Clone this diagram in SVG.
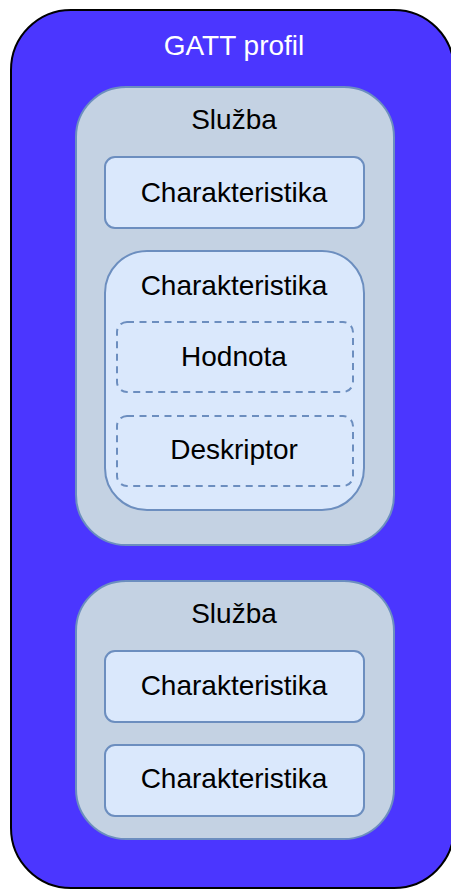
<svg xmlns="http://www.w3.org/2000/svg" width="451" height="890" viewBox="0 0 451 890">
<style>
text{font-family:"Liberation Sans",Arial,sans-serif;font-size:28px;text-anchor:middle;fill:#000}
.outer{fill:#4B36FF;stroke:#000;stroke-width:2}
.svc{fill:#C4D2E3;stroke:#6C8EBF;stroke-width:2}
.chr{fill:#DAE8FC;stroke:#6C8EBF;stroke-width:2}
.dash{fill:none;stroke:#6C8EBF;stroke-width:2;stroke-dasharray:7 5.5}
</style>
<g id="gatt-profil">
<rect class="outer" x="11" y="10" width="443" height="878" rx="60" ry="60"/>
<text x="234" y="55" style="fill:#fff">GATT profil</text>
</g>
<g id="sluzba-1">
<rect class="svc" x="76" y="87" width="318" height="458" rx="50" ry="50"/>
<text x="234" y="129">Služba</text>
</g>
<g id="charakteristika-1">
<rect class="chr" x="105" y="157" width="259" height="71" rx="10" ry="10"/>
<text x="234" y="202">Charakteristika</text>
</g>
<g id="charakteristika-2">
<rect class="chr" x="105" y="251" width="259" height="259" rx="42" ry="42"/>
<text x="234" y="295">Charakteristika</text>
</g>
<g id="hodnota">
<rect class="dash" x="117" y="322" width="236" height="70" rx="10" ry="10"/>
<text x="234" y="366">Hodnota</text>
</g>
<g id="deskriptor">
<rect class="dash" x="117" y="416" width="236" height="70" rx="10" ry="10"/>
<text x="234" y="459">Deskriptor</text>
</g>
<g id="sluzba-2">
<rect class="svc" x="76" y="581" width="318" height="258" rx="50" ry="50"/>
<text x="234" y="623">Služba</text>
</g>
<g id="charakteristika-3">
<rect class="chr" x="105" y="651" width="259" height="71" rx="10" ry="10"/>
<text x="234" y="695">Charakteristika</text>
</g>
<g id="charakteristika-4">
<rect class="chr" x="105" y="745" width="259" height="71" rx="10" ry="10"/>
<text x="234" y="788">Charakteristika</text>
</g>
<g id="connectors"></g>
</svg>
